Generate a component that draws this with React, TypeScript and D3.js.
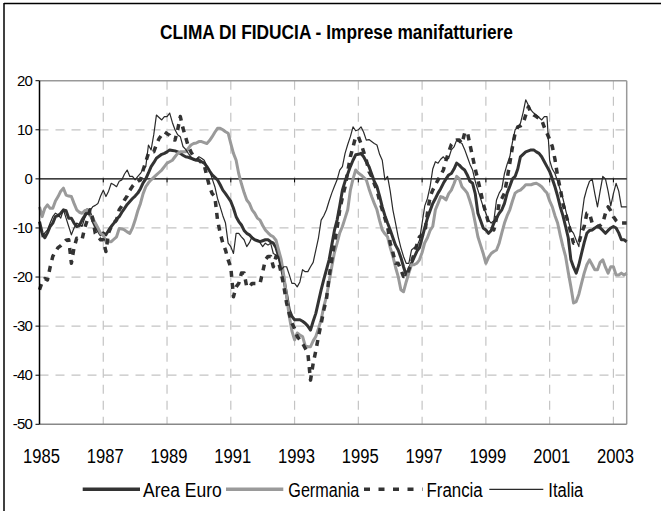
import React from 'react';
import * as d3 from 'd3';

const title = 'CLIMA DI FIDUCIA - Imprese manifatturiere';
const startYear = 1985;
const yearTicks = [1985, 1987, 1989, 1991, 1993, 1995, 1997, 1999, 2001, 2003];
const valueTicks = [20, 10, 0, -10, -20, -30, -40, -50];
const seriesNames = ['Area Euro', 'Germania', 'Francia', 'Italia'];

// Monthly values, Jan 1985 – Jun 2003
const areaEuro = [
  -8.7, -11, -12, -11, -9.7, -9, -7.7, -7.5, -7, -6.3, -6.5, -8,
  -8, -9, -9.7, -9.5, -8.4, -7.5, -6.3, -7, -8.5, -9.7, -10.5, -11.4,
  -11, -11.4, -10.5, -9.7, -9, -8.2, -7.7, -6.8, -6, -5.2, -4.6, -4,
  -3.5, -2.9, -2, -0.8, 0, 1.2, 2.5, 3.3, 4.2, 4.6, 5, 5.2,
  5.5, 5.9, 5.8, 5.7, 5.5, 5.2, 4.8, 4.5, 4.4, 4.2, 4, 3.8,
  3.8, 3.5, 3.2, 2.5, 1.6, 0.8, 0.3, -0.2, -1.2, -2.3, -3, -3.8,
  -4.6, -6, -7.7, -8.7, -9.4, -10.5, -11.1, -11.4, -12, -12.4, -12.6, -12.8,
  -12.6, -12.4, -12.4, -12.8, -13.1, -14, -15.8, -18, -20.6, -23.5, -26.7, -28,
  -28.7, -28.7, -28.7, -29, -29.4, -30, -30.8, -29, -27.4, -25, -22.6, -20.5,
  -18.5, -16.5, -13.5, -10.5, -8.4, -5.5, -2.3, -0.5, 1, 2.5, 3.8, 4.9,
  5, 5.2, 4.5, 3.5, 2.5, 1, -0.5, -1.6, -3.5, -5.7, -7.5, -9,
  -10.4, -12, -13.5, -14.5, -16, -17.9, -19.6, -18.5, -17.2, -16, -14.8, -14,
  -12, -10, -8, -6.5, -5, -4, -2.9, -2, -0.9, 0, 0.8, 1.1,
  2, 3.2, 2.8, 2.2, 1.8, 0.8, -0.5, -0.9, -3, -7, -8.5, -10,
  -10.4, -11.1, -10.5, -9, -8, -7, -6.3, -5, -2.9, -1.5, 0, 0.5,
  2, 4.5, 5, 5.5, 5.7, 5.9, 5.9, 5.5, 5.2, 4.5, 3.5, 2.5,
  1.5, 0, -1.6, -3.5, -5.7, -7.5, -9.7, -12, -16.5, -18, -19.2, -17.5,
  -15.2, -13, -11.1, -10.5, -10.4, -10, -9.7, -10, -10.5, -11.1, -10.5, -10,
  -9.7, -10, -11, -12.4, -12.4, -12.8,
];

const germania = [
  -5.7, -7.7, -6, -5.3, -6, -6, -4.5, -3.6, -2.5, -1.9, -3.3, -3.5,
  -3.6, -5, -6.3, -6.8, -7, -6.5, -6.3, -7.5, -8, -9, -10, -11.1,
  -11.5, -12.8, -12.8, -12.8, -12.3, -11.8, -10.1, -10.2, -10.4, -10.8, -11.1, -10,
  -8.4, -6.5, -5, -3, -1.6, -0.8, -0.2, 0.3, 0.8, 1.3, 1.8, 2.5,
  3.2, 3.5, 3.8, 4.5, 5.2, 5.5, 5.5, 5.5, 6.2, 6.9, 7.2, 7.3,
  7.6, 7.6, 7.4, 7.2, 7.8, 8.6, 9.5, 10.3, 10.3, 10, 9.6, 9.3,
  7.2, 5.2, 3.8, 1, -1, -2.8, -4.3, -5, -6.3, -7, -8, -8.4,
  -9.5, -10.4, -11, -11.5, -11.8, -12.5, -14.5, -16.5, -19.9, -24, -28, -31,
  -32.8, -31.4, -31.8, -32.1, -34, -34.2, -34.2, -33, -32.1, -30.5, -28.7, -26,
  -24, -21, -17.9, -15, -13.1, -11, -9.7, -8, -6.3, -2.3, 0, 1.8,
  1.2, 0.8, 0.3, -0.2, -2, -3.6, -5, -6.3, -8.5, -10.4, -11.2, -11.8,
  -14, -15.8, -18, -19.9, -22.6, -23, -21, -19.2, -17.5, -17.5, -17.2, -16.5,
  -15, -13, -12, -10.5, -9.7, -6.3, -5, -3.6, -3.8, -4.3, -3, -2.3,
  -1, 0.5, 0, -1.6, -2.2, -2.9, -4.5, -6.3, -9, -11.8, -13.5, -15.2,
  -17.2, -16, -15.2, -14.8, -14.5, -13.1, -11, -9, -7.5, -6.3, -4.5, -2.9,
  -2.5, -2.3, -1.8, -1.2, -1.2, -1.2, -1, -0.9, -1.2, -1.6, -2.3, -2.9,
  -4.5, -5.7, -7.5, -9, -11.5, -13.8, -15.8, -19, -22, -25.3, -25, -23.5,
  -21.3, -19.2, -17.5, -16.5, -17.5, -18.5, -18.5, -17, -16.5, -18, -19.2, -17.9,
  -17.9, -19.6, -19.6, -19.2, -19.6, -19.2,
];

const francia = [
  -22.6, -21, -20.3, -20.6, -18, -15.8, -14.8, -14, -13.6, -13.1, -12.5, -12.4,
  -17.2, -14, -12.1, -12.2, -12.4, -10, -8.4, -6.3, -8, -11.1, -11.8, -12.4,
  -12.4, -14.8, -11, -9.7, -9, -8.4, -6.3, -5.5, -4.3, -3.5, -2.3, -1.5,
  -0.9, -0.5, -0.2, 1.8, 3.5, 5.2, 5.5, 5.5, 7, 8.2, 9, 9.6,
  9.2, 8.9, 8, 7.9, 10, 12.7, 10.3, 8.5, 6.6, 5.5, 4.5, 4.2,
  3.8, 3.3, 2.8, 0.5, -1.6, -3, -3.6, -8.4, -11, -13.1, -14.5, -16.5,
  -18, -24, -22, -21.3, -19.2, -19.2, -22, -22, -21.3, -21.3, -21.3, -21.3,
  -19, -16.5, -15.8, -15.8, -17.9, -15.8, -17, -19.2, -22, -25.3, -27.5, -29.4,
  -30.5, -32.1, -32.8, -33.5, -34.5, -35.5, -41, -37.6, -35, -32.1, -29.5, -26.7,
  -24.5, -19.9, -16.5, -13.1, -10, -6.3, -3.8, -1.6, 1.5, 4.5, 6.5, 8.6,
  8.6, 7.2, 5.5, 3.8, 1.5, 0.5, -1, -2.3, -4.5, -6.3, -8, -9.7,
  -13.1, -15, -17.2, -17.2, -18.5, -19.9, -19.9, -18.5, -17, -15.2, -13.5, -11.8,
  -11.5, -11.1, -7, -3.6, -2.3, -1.2, -0.2, 0.8, 1.8, 3.8, 5.5, 7,
  7.6, 7.9, 7.9, 7.2, 9.3, 9.6, 7, 4.5, 2, -0.2, -2.5, -5,
  -7, -9, -9.5, -10.4, -8, -5, -4, -2.9, 0, 3.2, 6.5, 9.3,
  10.6, 10.8, 11.3, 13, 14.7, 13.4, 13, 12.7, 12.3, 12, 10.5, 9.3,
  8, 6.6, 4, 0.5, -2, -5, -7, -9, -11, -13.1, -13.1, -13.1,
  -11, -9.7, -7, -7, -9, -9, -9.7, -9.5, -9, -7, -5.7, -6.5,
  -7.7, -8.5, -9, -9, -9, -9,
];

const italia = [
  -8.7, -11.8, -11, -10.4, -9, -7.7, -7, -7.3, -8, -6.3, -8, -9.7,
  -11.4, -10, -9, -9.3, -9.7, -8, -7, -6.5, -5.7, -5.4, -5, -3.5,
  -2.3, -3.6, -2.5, -0.9, -1.2, -1.6, -0.5, -0.2, 1, 1.8, 0.5, 0.5,
  -0.2, 0.5, 1.1, 2, 2.5, 6.9, 5.9, 9, 13, 12.5, 12, 12.7,
  12.7, 13.4, 11.5, 10, 9, 8.6, 6.6, 6, 5.2, 4.5, 3.8, 4,
  4.5, 4.2, 3.8, 2.5, 1.8, 0, -1.6, -4, -5.7, -7.5, -9, -13.1,
  -13.8, -15.2, -11.1, -11.1, -11.8, -12.4, -13.8, -13, -11.8, -12.4, -12.4, -13,
  -13.8, -13.1, -13.5, -13.1, -15.2, -15.5, -15.8, -18.5, -17.9, -17.9, -19.5, -21.3,
  -21.3, -22, -21, -18.5, -18.9, -18.9, -17.9, -17, -14.5, -12, -8.4, -7.5,
  -6.3, -4.5, -2.9, -1.5, -0.2, 1.8, 2.5, 5.2, 7, 8.6, 10.6, 9.8,
  10, 10.6, 9.5, 7.9, 8, 7.6, 7.2, 6.9, 5, 3.8, -0.2, 0.5,
  -2.5, -6.3, -9, -11.8, -14, -15.8, -17.2, -17.2, -14.5, -14, -13.8, -12.5,
  -9, -5.5, -4, -1.6, 2, 3.5, 3.2, 4, 4.5, 3.8, 4.2, 5.9,
  6.5, 7.9, 7.5, 7.2, 6, 4.5, 3, 1.8, -0.5, -2.3, -4, -5.7,
  -7, -8.4, -9, -8.5, -4.3, -2.9, -2, 1.1, 3, 4.5, 7.5, 10,
  10.5, 11.3, 13.5, 16.1, 15, 14, 13.4, 13, 12.5, 12, 12.7, 12.7,
  3.8, 2, 1.1, -0.5, -2.3, -4, -6.3, -8.5, -10.4, -11.1, -12.5, -13.8,
  -8, -4, -2, -0.5, 0, -3, -5.7, -2.5, 0.5, 0, -2.5, -5.5,
  -3, -0.9, -2.5, -5.7, -5.7, -5.7,
];

const seriesValues = [areaEuro, germania, francia, italia];
const seriesStyles = [
  { stroke: '#333333', width: 3, dash: null },
  { stroke: '#9a9a9a', width: 3, dash: null },
  { stroke: '#333333', width: 3.5, dash: '6,6' },
  { stroke: '#2a2a2a', width: 1.2, dash: null },
];

const FONT = '"Liberation Sans", Arial, sans-serif';

export default function App() {
  const left = 39.5;
  const right = 626.7;
  const top = 80.7;
  const bottom = 424.3;
  const nPoints = areaEuro.length;
  const x = d3.scaleLinear().domain([startYear, startYear + (nPoints - 1) / 12]).range([left, right]);
  const y = d3.scaleLinear().domain([-50, 20]).range([bottom, top]);

  const line = d3
    .line<number>()
    .x((_, i) => x(startYear + i / 12))
    .y((d) => y(d));

  const legendItems = [
    { x1: 82.7, x2: 140, tx: 143, tw: 78.7 },
    { x1: 226, x2: 283.3, tx: 288.3, tw: 71 },
    { x1: 364, x2: 422.5, tx: 426.5, tw: 56.2 },
    { x1: 489.3, x2: 543.3, tx: 548.3, tw: 35 },
  ];
  const legendY = 489.3;

  return (
    <svg
      width={661}
      height={511}
      style={{ position: 'absolute', left: 0, top: 0, background: '#fff' }}
      fontFamily={FONT}
    >
      <rect x={0} y={0} width={661} height={511} fill="#fff" />
      {/* chart area border */}
      <line x1={4} y1={3.5} x2={661} y2={3.5} stroke="#000" strokeWidth={1.5} />
      <line x1={4} y1={3} x2={4} y2={511} stroke="#000" strokeWidth={1.5} />

      <text
        x={336.5}
        y={38.5}
        textAnchor="middle"
        fontSize={19.5}
        fontWeight="bold"
        textLength={353}
        lengthAdjust="spacingAndGlyphs"
        fill="#000"
      >
        {title}
      </text>

      {/* gridlines */}
      {valueTicks
        .filter((v) => v !== 20 && v !== 0 && v !== -50)
        .map((v) => (
          <line
            key={'hg' + v}
            x1={left}
            x2={right}
            y1={y(v)}
            y2={y(v)}
            stroke="#c4c4c4"
            strokeWidth={1.2}
            strokeDasharray="9,7"
          />
        ))}
      {yearTicks
        .filter((t) => t !== startYear)
        .map((t) => (
          <line
            key={'vg' + t}
            x1={x(t)}
            x2={x(t)}
            y1={top}
            y2={bottom}
            stroke="#c4c4c4"
            strokeWidth={1.2}
            strokeDasharray="9,7"
          />
        ))}

      {/* plot frame */}
      <line x1={left} x2={right} y1={top} y2={top} stroke="#999" strokeWidth={1.5} />
      <line x1={right} x2={right} y1={top} y2={bottom} stroke="#999" strokeWidth={1.5} />
      <line x1={left} x2={right} y1={bottom} y2={bottom} stroke="#888" strokeWidth={1.5} />

      {/* zero line (category axis) */}
      <line x1={left} x2={right} y1={y(0)} y2={y(0)} stroke="#000" strokeWidth={1.2} />
      {yearTicks.map((t) => (
        <line key={'zt' + t} x1={x(t)} x2={x(t)} y1={y(0)} y2={y(0) + 3.5} stroke="#000" strokeWidth={1} />
      ))}

      {/* series */}
      {seriesValues.map((vals, si) => (
        <path
          key={seriesNames[si]}
          d={line(vals) || ''}
          fill="none"
          stroke={seriesStyles[si].stroke}
          strokeWidth={seriesStyles[si].width}
          strokeDasharray={seriesStyles[si].dash || undefined}
          strokeLinejoin="round"
        />
      ))}

      {/* y axis */}
      <line x1={left} x2={left} y1={top} y2={bottom} stroke="#000" strokeWidth={1.5} />
      {valueTicks.map((v) => (
        <g key={'yt' + v}>
          <line x1={left - 4} x2={left} y1={y(v)} y2={y(v)} stroke="#000" strokeWidth={1} />
          <text
            x={32}
            y={y(v) + 5}
            textAnchor="end"
            fontSize={15}
            letterSpacing={-0.8}
            fill="#000"
          >
            {v}
          </text>
        </g>
      ))}

      {/* x labels */}
      {yearTicks.map((t) => (
        <text
          key={'xl' + t}
          x={x(t) + 2}
          y={463}
          textAnchor="middle"
          fontSize={20}
          textLength={37}
          lengthAdjust="spacingAndGlyphs"
          fill="#000"
        >
          {t}
        </text>
      ))}

      {/* legend */}
      {seriesNames.map((name, i) => (
        <g key={'lg' + name}>
          <line
            x1={legendItems[i].x1}
            x2={legendItems[i].x2}
            y1={legendY}
            y2={legendY}
            stroke={seriesStyles[i].stroke}
            strokeWidth={seriesStyles[i].width === 1.2 ? 1.3 : 3.5}
            strokeDasharray={seriesStyles[i].dash ? '6,8.5' : undefined}
          />
          <text
            x={legendItems[i].tx}
            y={496.5}
            fontSize={20}
            textLength={legendItems[i].tw}
            lengthAdjust="spacingAndGlyphs"
            fill="#000"
          >
            {name}
          </text>
        </g>
      ))}
    </svg>
  );
}
